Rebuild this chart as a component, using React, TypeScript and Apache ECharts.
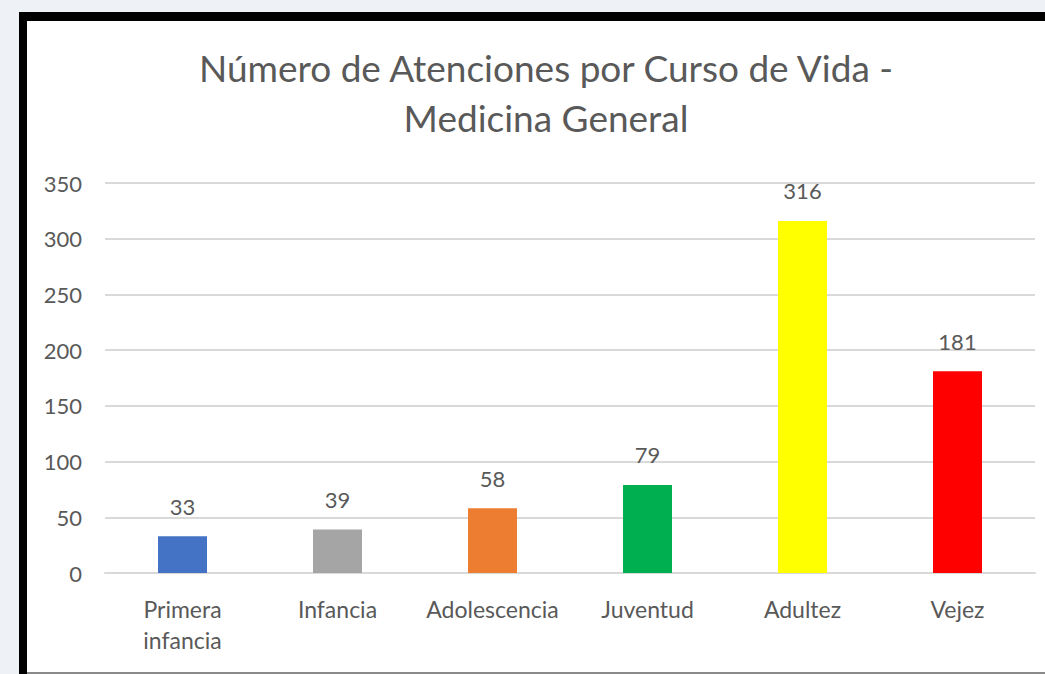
import React, { useEffect, useRef } from "react";
import * as echarts from "echarts";

const categories = ["Primera\ninfancia", "Infancia", "Adolescencia", "Juventud", "Adultez", "Vejez"];
const values = [33, 39, 58, 79, 316, 181];
const barColors = ["#4472C4", "#A5A5A5", "#ED7D31", "#00B050", "#FFFF00", "#FF0000"];
const titleLines = ["Número de Atenciones por Curso de Vida -", "Medicina General"];

const FONT = "Lato, 'Open Sans', sans-serif";
const GRAY = "#595959";

export default function App() {
  const ref = useRef<HTMLDivElement>(null);
  useEffect(() => {
    if (!ref.current) return;
    const chart = echarts.init(ref.current, null, { renderer: "svg" });
    chart.setOption({
      animation: false,
      backgroundColor: "#eef1f5",
      textStyle: { fontFamily: FONT },
      graphic: [
        { type: "rect", z: -10, shape: { x: 19, y: 12, width: 1040, height: 670 }, style: { fill: "#000" } },
        { type: "rect", z: -9, shape: { x: 27, y: 21, width: 1030, height: 651 }, style: { fill: "#ffffff" } },
        { type: "rect", z: -9, shape: { x: 27, y: 672, width: 1030, height: 4 }, style: { fill: "#8a8a8a" } },
      ],
      title: {
        text: titleLines.join("\n"),
        left: 541,
        top: 37,
        textAlign: "center",
        textStyle: { fontFamily: FONT, fontSize: 37, fontWeight: "normal", color: GRAY, lineHeight: 50 },
      },
      grid: { left: 105, right: 10, top: 183, bottom: 101, containLabel: false },
      xAxis: {
        type: "category",
        data: categories,
        axisLine: { show: true, lineStyle: { color: "#D9D9D9", width: 2 } },
        axisTick: { show: false },
        axisLabel: { color: GRAY, fontSize: 23, margin: 20, lineHeight: 31, fontFamily: FONT, interval: 0 },
      },
      yAxis: {
        type: "value",
        min: 0,
        max: 350,
        interval: 50,
        axisLine: { show: false },
        axisTick: { show: false },
        splitLine: { lineStyle: { color: "#D9D9D9", width: 2 } },
        axisLabel: { color: GRAY, fontSize: 22, margin: 23, fontFamily: FONT },
      },
      series: [
        {
          type: "bar",
          barWidth: 49,
          data: values.map((v, i) => ({ value: v, itemStyle: { color: barColors[i] } })),
          label: { show: true, position: "top", distance: 19, color: GRAY, fontSize: 22, fontFamily: FONT },
        },
      ],
    });
    return () => chart.dispose();
  }, []);
  return <div ref={ref} style={{ position: "fixed", left: 0, top: 0, width: 1045, height: 674 }} />;
}
